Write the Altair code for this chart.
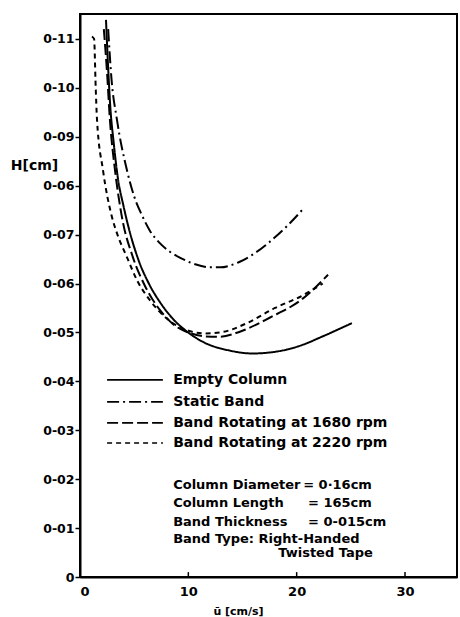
import altair as alt
import pandas as pd

# ---- data ----
series_names = ["Empty Column", "Static Band",
                "Band Rotating at 1680 rpm", "Band Rotating at 2220 rpm"]

empty_x = [2.40, 2.60, 2.80, 3.10, 3.50, 4.00, 4.60, 5.40, 6.40, 7.50, 8.57, 9.86, 11.5, 13.8, 15.9, 17.5, 19.1, 20.6, 22.1, 25.1]
empty_y = [0.1139, 0.104, 0.096, 0.089, 0.0815, 0.0760, 0.0705, 0.0648, 0.0598, 0.0558, 0.0528, 0.0502, 0.0479, 0.0463, 0.0457, 0.0459, 0.0465, 0.0475, 0.0489, 0.0519]

static_x = [2.60, 2.90, 3.41, 4.33, 5.00, 5.71, 6.45, 7.30, 8.30, 9.30, 10.3, 11.2, 12.0, 13.0, 14.0, 14.7, 16.0, 17.5, 19.0, 20.7]
static_y = [0.1120, 0.102, 0.0935, 0.0832, 0.0778, 0.0740, 0.0708, 0.0684, 0.0665, 0.0652, 0.0642, 0.0636, 0.0633, 0.0633, 0.0638, 0.0644, 0.0660, 0.0685, 0.0715, 0.0755]

r1680_x = [2.20, 2.50, 2.76, 3.23, 3.87, 4.88, 6.00, 7.37, 8.70, 10.1, 11.5, 12.9, 14.7, 17.5, 20.5, 22.9]
r1680_y = [0.1120, 0.103, 0.0935, 0.0832, 0.0736, 0.0654, 0.0595, 0.0546, 0.0515, 0.0499, 0.0492, 0.0491, 0.0501, 0.0530, 0.0568, 0.0618]

r2220_x = [1.10, 1.30, 1.45, 1.57, 2.12, 2.95, 3.41, 4.33, 5.30, 6.45, 8.20, 10.1, 11.6, 13.2, 15.4, 18.0, 20.5, 22.4]
r2220_y = [0.1105, 0.1100, 0.100, 0.0935, 0.0832, 0.0736, 0.0703, 0.0654, 0.0605, 0.0566, 0.0525, 0.0503, 0.0498, 0.0501, 0.0519, 0.0550, 0.0575, 0.0600]

y_ticks = [0, 0.01, 0.02, 0.03, 0.04, 0.05, 0.06, 0.07, 0.08, 0.09, 0.10, 0.11]
y_tick_labels = ["0", "0-01", "0-02", "0-03", "0-04", "0-05", "0-06", "0-07", "0-06", "0-09", "0-10", "0-11"]
x_ticks = [0, 10, 20, 30]

note_text = ["Column Diameter", "= 0·16cm", "Column Length", "= 165cm",
             "Band Thickness", "= 0-015cm", "Band Type: Right-Handed", "Twisted Tape"]
note_x = [8.6, 20.6, 8.6, 21.05, 8.6, 21.05, 8.6, 18.3]
note_y = [0.0188, 0.0188, 0.01513, 0.01513, 0.01125, 0.01125, 0.00777, 0.00491]

# legend layout (in data units, inside the plot)
legend_x0, legend_x1, legend_text_x = 2.5, 7.65, 8.6
legend_y = [0.0403, 0.0358, 0.0315, 0.0274]

# ---- build tables ----
rows = []
for name, xs, ys in zip(series_names,
                        [empty_x, static_x, r1680_x, r2220_x],
                        [empty_y, static_y, r1680_y, r2220_y]):
    for i, (a, b) in enumerate(zip(xs, ys)):
        rows.append({"series": name, "u": a, "H": b, "i": i})
df = pd.DataFrame(rows)
notes = pd.DataFrame({"x": note_x, "y": note_y, "text": note_text})
xt = pd.DataFrame({"x": [t for t in x_ticks if t > 0]})
leg = pd.DataFrame({"series": series_names, "x0": legend_x0, "x1": legend_x1,
                    "xt": legend_text_x, "y": legend_y})

FONT = "DejaVu Sans"
label_expr = "[" + ",".join("'%s'" % s for s in y_tick_labels) + "][round(datum.value*100)]"

xscale = alt.Scale(domain=[0, 34.8], nice=False, zero=False)
yscale = alt.Scale(domain=[0, 0.1151], nice=False)
dash_scale = alt.Scale(domain=series_names, range=[[1, 0], [12, 4, 2, 4], [11, 4], [5, 4]])

lines = alt.Chart(df).mark_line(color="black", strokeWidth=2, interpolate="monotone").encode(
    x=alt.X("u:Q", scale=xscale,
            axis=alt.Axis(values=x_ticks, title="ū [cm/s]", grid=False, tickSize=0,
                          labelPadding=8, labelFontSize=13, titleFontSize=11,
                          titleX=158, titleY=34, titleAnchor="start", titleAlign="center",
                          titleBaseline="middle", domainWidth=2)),
    y=alt.Y("H:Q", scale=yscale,
            axis=alt.Axis(values=y_ticks, labelExpr=label_expr, title="H[cm]", grid=False,
                          tickSize=5, tickWidth=1.5, labelPadding=1, labelFontSize=12.5,
                          titleAngle=0, titleX=-46, titleY=151, titleAlign="center",
                          titleBaseline="middle", titleFontSize=14, domainWidth=2)),
    strokeDash=alt.StrokeDash("series:N", scale=dash_scale, legend=None),
    order="i:Q",
)

inner_ticks = alt.Chart(xt).mark_rule(color="black", strokeWidth=1.5).encode(
    x="x:Q", y=alt.datum(0), y2=alt.datum(0.001)
)

legend_lines = alt.Chart(leg).mark_rule(color="black", strokeWidth=1.6).encode(
    x="x0:Q", x2="x1:Q", y="y:Q",
    strokeDash=alt.StrokeDash("series:N", scale=dash_scale, legend=None),
)

legend_text = alt.Chart(leg).mark_text(align="left", baseline="middle", font=FONT,
                                       fontSize=14, fontWeight="bold", color="black").encode(
    x="xt:Q", y="y:Q", text="series:N"
)

text = alt.Chart(notes).mark_text(align="left", baseline="middle", font=FONT,
                                  fontSize=13, fontWeight="bold", color="black").encode(
    x="x:Q", y="y:Q", text="text:N"
)

chart = alt.layer(lines, inner_ticks, legend_lines, legend_text, text).properties(
    width=377, height=563,
    autosize=alt.AutoSizeParams(type="none"),
    padding={"left": 80, "top": 14, "right": 3, "bottom": 40},
    background="white",
).configure_view(stroke="black", strokeWidth=2).configure_axis(
    labelFont=FONT, titleFont=FONT, labelFontWeight="bold", titleFontWeight="bold",
    labelColor="black", titleColor="black", domainColor="black", tickColor="black"
)

chart.save("out.html", embed_options={"renderer": "svg", "actions": False})
